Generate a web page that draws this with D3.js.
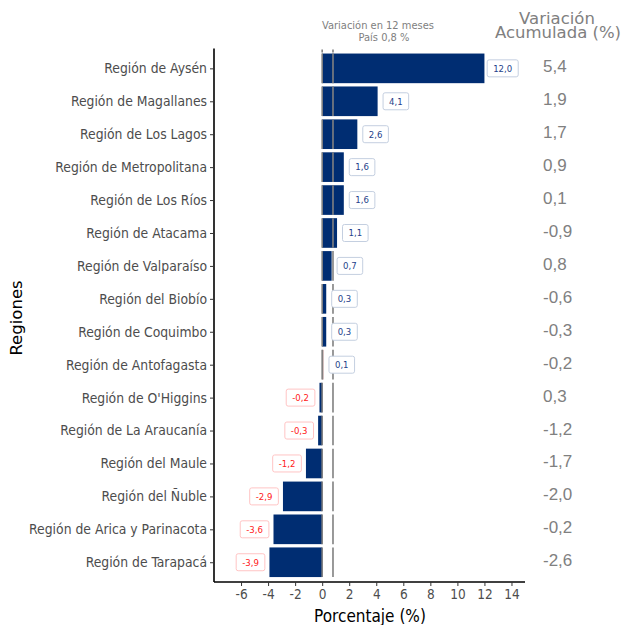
<!DOCTYPE html>
<html><head><meta charset="utf-8">
<script src="https://cdn.jsdelivr.net/npm/d3@7"></script>
<style>body{margin:0;background:#fff}</style>
</head><body>
<svg id="c" width="625" height="625"></svg>
<script>
const regions = ["Región de Aysén","Región de Magallanes","Región de Los Lagos","Región de Metropolitana","Región de Los Ríos","Región de Atacama","Región de Valparaíso","Región del Biobío","Región de Coquimbo","Región de Antofagasta","Región de O'Higgins","Región de La Araucanía","Región del Maule","Región del Ñuble","Región de Arica y Parinacota","Región de Tarapacá"];
const variation12 = [12.0,4.1,2.6,1.6,1.6,1.1,0.7,0.3,0.3,0.1,-0.2,-0.3,-1.2,-2.9,-3.6,-3.9];
const accumulated = [5.4,1.9,1.7,0.9,0.1,-0.9,0.8,-0.6,-0.3,-0.2,0.3,-1.2,-1.7,-2.0,-0.2,-2.6];
const xTicks = [-6,-4,-2,0,2,4,6,8,10,12,14];
const countryValue = 0.8;

const fmt = v => v.toFixed(1).replace(".", ",");
const svg = d3.select("#c");
const cond = "'DejaVu Sans Condensed','DejaVu Sans',sans-serif";
const L = 214, R = 525, T = 48.6, B = 582;
const x = d3.scaleLinear().domain([-8,15]).range([L,R]);
const y = d3.scalePoint().domain(regions).range([T,B]).padding(0.6);
const bh = y.step()*0.9;

// bars
svg.append("g").selectAll("rect").data(regions).join("rect")
  .attr("x",(d,i)=>x(Math.min(0,variation12[i])))
  .attr("y",d=>y(d)-bh/2)
  .attr("width",(d,i)=>Math.abs(x(variation12[i])-x(0)))
  .attr("height",bh)
  .attr("fill",(d,i)=> Math.abs(variation12[i])<0.15 ? "#b08a8a" : "#002d72");

// reference lines (segmented per row)
[0,countryValue].forEach(v=>{
  const g = svg.append("g");
  g.selectAll("line").data(regions).join("line")
    .attr("x1",x(v)).attr("x2",x(v))
    .attr("y1",d=>y(d)-bh/2).attr("y2",d=>y(d)+bh/2)
    .attr("stroke","#808080").attr("stroke-width",1.6);
  g.append("line").attr("x1",x(v)).attr("x2",x(v)).attr("y1",T+1).attr("y2",T+4)
    .attr("stroke","#808080").attr("stroke-width",1.6);
});

// value labels
const lg = svg.append("g");
regions.forEach((r,i)=>{
  const v = variation12[i];
  const pos = v>=0;
  const cx = x(pos ? v+1.35 : v-1.4);
  const g = lg.append("g");
  const t = g.append("text").attr("x",cx).attr("y",y(r)+3.3)
    .attr("text-anchor","middle").attr("font-family",cond).attr("font-size",9.5)
    .attr("fill",pos?"#1f3f8a":"#ff2020").text(fmt(v));
  const w = t.node().getComputedTextLength()+12;
  g.insert("rect","text").attr("x",cx-w/2).attr("y",y(r)-8.5).attr("width",w).attr("height",17)
    .attr("rx",2).attr("fill","#fff").attr("stroke",pos?"#c4cfe0":"#ffc4c4").attr("stroke-width",1);
});

// axes
const ax = svg.append("g").attr("transform",`translate(0,${B})`)
  .call(d3.axisBottom(x).tickValues(xTicks).tickSize(4).tickPadding(3).tickFormat(d=>d));
ax.select(".domain").attr("stroke","#000").attr("stroke-width",1.6).attr("d",`M${L},0H${R}`);
ax.selectAll(".tick line").attr("stroke","#333");
ax.selectAll(".tick text").attr("font-family",cond).attr("font-size",13.5).attr("fill","#4d4d4d");

const ay = svg.append("g").attr("transform",`translate(${L},0)`)
  .call(d3.axisLeft(y).tickSize(4).tickPadding(3));
ay.select(".domain").attr("stroke","#000").attr("stroke-width",1.6).attr("d",`M0,${T}V${B}`);
ay.selectAll(".tick line").attr("stroke","#333");
ay.selectAll(".tick text").attr("font-family",cond).attr("font-size",13.8).attr("fill","#4d4d4d");

// accumulated values
svg.append("g").selectAll("text").data(regions).join("text")
  .attr("x",543).attr("y",d=>y(d)+4)
  .attr("font-family","'Liberation Sans',Arial,sans-serif").attr("font-size",17)
  .attr("fill","#808080").text((d,i)=>fmt(accumulated[i]));

// titles
svg.append("text").attr("x",557).attr("y",24).attr("text-anchor","middle")
  .attr("font-family","'DejaVu Sans',sans-serif").attr("font-size",16.5).attr("fill","#808080").text("Variación");
svg.append("text").attr("x",558).attr("y",38).attr("text-anchor","middle")
  .attr("font-family","'DejaVu Sans',sans-serif").attr("font-size",16.5).attr("fill","#808080").text("Acumulada (%)");
svg.append("text").attr("x",378).attr("y",29).attr("text-anchor","middle")
  .attr("font-family",cond).attr("font-size",11).attr("fill","#808080").text("Variación en 12 meses");
svg.append("text").attr("x",384).attr("y",41).attr("text-anchor","middle")
  .attr("font-family",cond).attr("font-size",11).attr("fill","#808080").text("País 0,8 %");

svg.append("text").attr("x",370).attr("y",622).attr("text-anchor","middle")
  .attr("font-family",cond).attr("font-size",17).attr("fill","#000").text("Porcentaje (%)");
svg.append("text").attr("transform","translate(22,318) rotate(-90)").attr("text-anchor","middle")
  .attr("font-family","'DejaVu Sans',sans-serif").attr("font-size",16.5).attr("fill","#000").text("Regiones");
</script>
</body></html>
